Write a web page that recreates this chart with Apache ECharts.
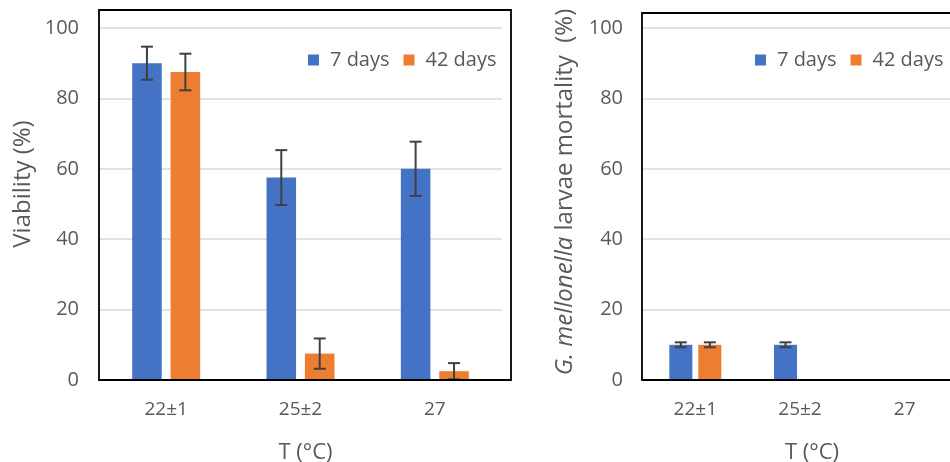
<!DOCTYPE html>
<html>
<head>
<meta charset="utf-8">
<script src="https://cdn.jsdelivr.net/npm/echarts@6/dist/echarts.min.js"></script>
<style>
  html, body { margin: 0; padding: 0; background: #fff; }
  #chart { width: 950px; height: 462px; }
</style>
</head>
<body>
<div id="chart"></div>
<script>
// Temperature groups
const temps = ['22±1', '25±2', '27'];
const seriesNames = ['7 days', '42 days'];
const yTicks = [0, 20, 40, 60, 80, 100];

// Viability (%) with standard deviations
const viability7 = [90, 57.5, 60];
const viability7Err = [4.7, 7.8, 7.7];
const viability42 = [87.5, 7.5, 2.5];
const viability42Err = [5.2, 4.3, 2.3];

// G. mellonella larvae mortality (%) with standard deviations
const mortality7 = [10, 10, 0];
const mortality7Err = [0.7, 0.7, 0];
const mortality42 = [10, 0, 0];
const mortality42Err = [0.7, 0, 0];

const BLUE = '#4472c4';
const ORANGE = '#ed7d31';
const GREY = '#595959';
const FONT = '"Open Sans", "Noto Sans", sans-serif';

const panels = [
  { barPct: 0.22, gapPct: 0.30 },
  { barPct: 0.22, gapPct: 0.26 }
];

function errorSeries(gridIdx, side, vals, errs) {
  const p = panels[gridIdx];
  return {
    type: 'custom',
    xAxisIndex: gridIdx,
    yAxisIndex: gridIdx,
    z: 5,
    silent: true,
    data: temps.map((t, i) => [i, vals[i], errs[i]]),
    renderItem: function (params, api) {
      const err = api.value(2);
      if (!err) return null;
      const mean = api.value(1);
      const band = api.size([1, 0])[0];
      const bw = band * p.barPct;
      const off = side * (bw + bw * p.gapPct) / 2;
      const hi = api.coord([api.value(0), mean + err]);
      const lo = api.coord([api.value(0), Math.max(0, mean - err)]);
      const x = hi[0] + off;
      const cap = 6;
      const style = { stroke: '#404040', lineWidth: 2 };
      return {
        type: 'group',
        children: [
          { type: 'line', shape: { x1: x, y1: hi[1], x2: x, y2: lo[1] }, style: style },
          { type: 'line', shape: { x1: x - cap, y1: hi[1], x2: x + cap, y2: hi[1] }, style: style },
          { type: 'line', shape: { x1: x - cap, y1: lo[1], x2: x + cap, y2: lo[1] }, style: style }
        ]
      };
    }
  };
}

function barSeries(gridIdx, name, vals, color) {
  const p = panels[gridIdx];
  return {
    name: name,
    type: 'bar',
    xAxisIndex: gridIdx,
    yAxisIndex: gridIdx,
    data: vals,
    barWidth: (p.barPct * 100) + '%',
    barGap: (p.gapPct * 100) + '%',
    itemStyle: { color: color }
  };
}

function xAxis(gridIdx, pad) {
  return {
    type: 'category',
    gridIndex: gridIdx,
    data: temps,
    axisLine: { lineStyle: { color: '#000', width: 2 } },
    axisTick: { show: false },
    axisLabel: { color: GREY, fontSize: 19, fontFamily: FONT, margin: 20 },
    name: 'T (°C)',
    nameLocation: 'middle',
    nameGap: 62,
    nameTextStyle: { color: GREY, fontSize: 22, fontFamily: FONT, padding: [0, 0, 0, pad] }
  };
}

function yAxis(gridIdx, name, gap, pad, rich) {
  return {
    type: 'value',
    gridIndex: gridIdx,
    min: 0,
    max: yTicks[yTicks.length - 1],
    interval: yTicks[1] - yTicks[0],
    axisLine: { show: false },
    axisTick: { show: false },
    axisLabel: { color: GREY, fontSize: 20, fontFamily: FONT, margin: 20 },
    splitLine: { lineStyle: { color: '#d9d9d9', width: 1.5 } },
    name: name,
    nameLocation: 'middle',
    nameGap: gap,
    nameRotate: 90,
    nameTextStyle: {
      color: GREY, fontSize: 24, fontFamily: FONT,
      padding: [0, 0, 0, pad],
      rich: rich
    }
  };
}

function legend(left) {
  return {
    left: left,
    top: 50,
    padding: 0,
    icon: 'rect',
    itemWidth: 11,
    itemHeight: 11,
    itemGap: 14,
    data: seriesNames,
    selectedMode: false,
    textStyle: { color: GREY, fontSize: 20, fontFamily: FONT, padding: [0, 0, 0, 6] }
  };
}

const chart = echarts.init(document.getElementById('chart'), null, { renderer: 'canvas' });

chart.setOption({
  animation: false,
  backgroundColor: '#fff',
  textStyle: { fontFamily: FONT },
  grid: [
    { left: 99, top: 28, right: 448, bottom: 82, containLabel: false, outerBoundsMode: 'none' },
    { left: 643, top: 28, right: -7, bottom: 82, containLabel: false, outerBoundsMode: 'none' }
  ],
  xAxis: [xAxis(0, 10), xAxis(1, 24)],
  yAxis: [
    yAxis(0, 'Viability (%)', 64, 40),
    yAxis(1, '{i|G. mellonella} larvae mortality  (%)', 66, 24, {
      i: { fontStyle: 'italic', color: GREY, fontSize: 24, fontFamily: FONT }
    })
  ],
  legend: [legend(308), legend(755)],
  graphic: [
    { type: 'rect', shape: { x: 99, y: 10, width: 412, height: 370 },
      style: { fill: 'none', stroke: '#000', lineWidth: 1.8 }, z: 10, silent: true },
    { type: 'rect', shape: { x: 642, y: 13, width: 400, height: 367 },
      style: { fill: 'none', stroke: '#000', lineWidth: 1.8 }, z: 10, silent: true }
  ],
  series: [
    barSeries(0, seriesNames[0], viability7, BLUE),
    barSeries(0, seriesNames[1], viability42, ORANGE),
    errorSeries(0, -1, viability7, viability7Err),
    errorSeries(0, 1, viability42, viability42Err),
    barSeries(1, seriesNames[0], mortality7, BLUE),
    barSeries(1, seriesNames[1], mortality42, ORANGE),
    errorSeries(1, -1, mortality7, mortality7Err),
    errorSeries(1, 1, mortality42, mortality42Err)
  ]
});
</script>
</body>
</html>
